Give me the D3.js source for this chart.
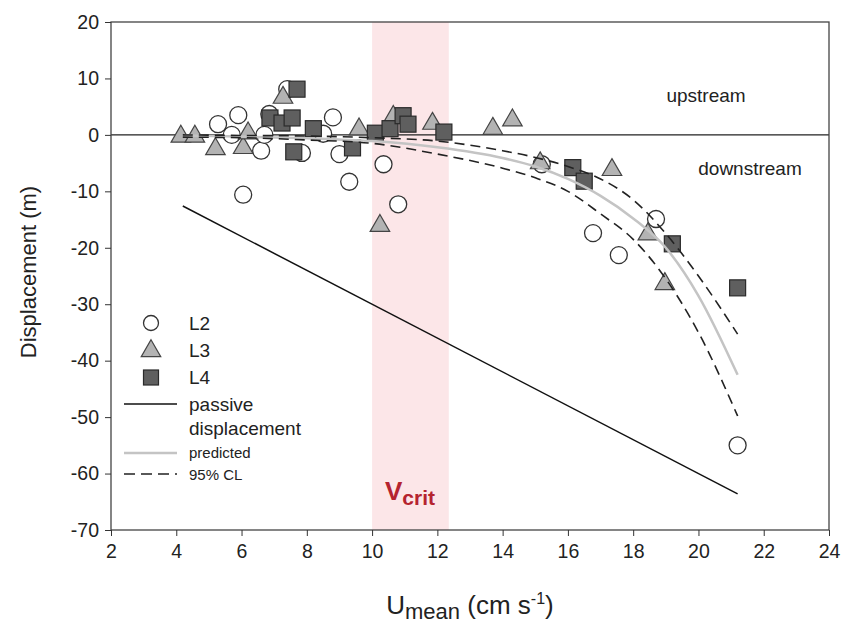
<!DOCTYPE html>
<html><head><meta charset="utf-8">
<script src="https://cdn.jsdelivr.net/npm/d3@7"></script>
<style>body{margin:0;background:#fff}svg{font-family:"Liberation Sans",Arial,sans-serif}</style>
</head><body><svg id="c" width="845" height="642"></svg>
<script>
const xTicks=[2,4,6,8,10,12,14,16,18,20,22,24];
const yTicks=[20,10,0,-10,-20,-30,-40,-50,-60,-70];
const vcrit=[10,12.35];
const L2x=[5.28,5.7,5.9,6.05,6.6,6.7,6.85,7.4,7.85,8.5,8.8,9.0,9.3,10.35,10.8,15.2,16.77,17.56,18.7,21.2];
const L2y=[1.9,0,3.5,-10.6,-2.8,0,3.7,8.1,-3.2,0.2,3.1,-3.4,-8.3,-5.2,-12.3,-5.2,-17.4,-21.3,-14.9,-55.0];
const L3x=[4.14,4.57,5.2,6.05,6.2,7.27,9.6,10.24,10.65,11.85,13.7,14.3,15.15,17.35,18.45,18.97];
const L3y=[-0.3,-0.3,-2.5,-2.3,0.3,6.6,1.0,-16.1,3.2,2.0,1.1,2.6,-5.0,-6.2,-17.6,-26.4];
const L4x=[6.87,7.24,7.55,7.7,7.6,8.2,9.4,10.1,10.55,10.95,11.1,12.2,16.15,16.5,19.2,21.2];
const L4y=[3.0,2.1,3.0,8.1,-3.0,1.1,-2.3,0.3,1.1,3.4,1.9,0.5,-5.8,-8.2,-19.3,-27.1];
const passiveX=[4.2,21.2];
const passiveY=[-12.6,-63.6];
const curveX=[4.2,6,8,10,12,14,15,16,17,18,19,20,21.2];
const predY=[-0.1,-0.3,-0.6,-1.1,-2.2,-4.1,-5.6,-7.8,-10.8,-14.8,-20,-28.5,-42.5];
const upperY=[0,-0.1,-0.2,-0.5,-1.1,-2.8,-4,-5.6,-7.8,-11.5,-17.5,-25,-35.3];
const lowerY=[-0.4,-0.5,-0.9,-1.5,-3.4,-5.9,-7.6,-10,-14,-18.5,-25.5,-35,-49.8];

const svg=d3.select("#c");
const L=111,R=829,T=22,B=530;
const x=d3.scaleLinear().domain([2,24]).range([L,R]);
const y=d3.scaleLinear().domain([-70,20]).range([B,T]);

svg.append("rect").attr("x",x(vcrit[0])).attr("y",T).attr("width",x(vcrit[1])-x(vcrit[0])).attr("height",B-T).attr("fill","#fce6e8");
svg.append("line").attr("x1",L).attr("x2",R).attr("y1",y(0)).attr("y2",y(0)).attr("stroke","#222").attr("stroke-width",1.2);

const g=svg.append("g");
g.selectAll("circle.l2").data(L2x).join("circle").attr("cx",d=>x(d)).attr("cy",(d,i)=>y(L2y[i])).attr("r",8.5).attr("fill","#fff").attr("stroke","#333").attr("stroke-width",1.3);
const tri=d3.symbol().type(d3.symbolTriangle).size(165);
g.selectAll("path.l3").data(L3x).join("path").attr("d",tri).attr("transform",(d,i)=>`translate(${x(d)},${y(L3y[i])})`).attr("fill","#b3b3b3").attr("stroke","#444").attr("stroke-width",1.2);
g.selectAll("rect.l4").data(L4x).join("rect").attr("x",d=>x(d)-8).attr("y",(d,i)=>y(L4y[i])-8).attr("width",16).attr("height",16).attr("fill","#5f5f5f").attr("stroke","#2a2a2a").attr("stroke-width",1.2);

const line=d3.line().x(d=>x(d[0])).y(d=>y(d[1])).curve(d3.curveMonotoneX);
svg.append("path").attr("d",line(curveX.map((v,i)=>[v,predY[i]]))).attr("fill","none").attr("stroke","#c4c4c4").attr("stroke-width",2.5);
[upperY,lowerY].forEach(a=>svg.append("path").attr("d",line(curveX.map((v,i)=>[v,a[i]]))).attr("fill","none").attr("stroke","#222").attr("stroke-width",1.6).attr("stroke-dasharray","10,6"));
svg.append("path").attr("d",d3.line().x(d=>x(d[0])).y(d=>y(d[1]))(passiveX.map((v,i)=>[v,passiveY[i]]))).attr("fill","none").attr("stroke","#111").attr("stroke-width",1.5);

// frame
svg.append("rect").attr("x",L).attr("y",T).attr("width",R-L).attr("height",B-T).attr("fill","none").attr("stroke","#444").attr("stroke-width",1.3);
const fmt=d=>String(d);
const xa=svg.append("g").attr("transform",`translate(0,${B})`).call(d3.axisBottom(x).tickValues(xTicks).tickFormat(fmt).tickSize(6).tickPadding(8).tickSizeOuter(0));
const ya=svg.append("g").attr("transform",`translate(${L},0)`).call(d3.axisLeft(y).tickValues(yTicks).tickFormat(fmt).tickSize(6).tickPadding(6).tickSizeOuter(0));
[xa,ya].forEach(a=>{a.select(".domain").remove();a.selectAll("line").attr("stroke","#333");a.selectAll("text").attr("font-size",19.5).attr("fill","#222").attr("font-family","Liberation Sans, Arial, sans-serif");});

svg.append("text").attr("transform","translate(36,272) rotate(-90)").attr("text-anchor","middle").attr("font-size",22).attr("fill","#222").text("Displacement (m)");
const xt=svg.append("text").attr("x",470).attr("y",614).attr("text-anchor","middle").attr("font-size",26).attr("fill","#222");
xt.append("tspan").text("U");
xt.append("tspan").attr("font-size",22).attr("dy",5).text("mean");
xt.append("tspan").attr("dy",-5).text(" (cm s");
xt.append("tspan").attr("font-size",16).attr("dy",-10).text("-1");
xt.append("tspan").attr("dy",10).text(")");

svg.append("text").attr("x",706).attr("y",102).attr("text-anchor","middle").attr("font-size",19).attr("fill","#222").text("upstream");
svg.append("text").attr("x",750).attr("y",175).attr("text-anchor","middle").attr("font-size",19).attr("fill","#222").text("downstream");
const vt=svg.append("text").attr("x",410).attr("y",500).attr("text-anchor","middle").attr("font-size",26).attr("font-weight","bold").attr("fill","#b5232f");
vt.append("tspan").text("V");
vt.append("tspan").attr("font-size",21).attr("dy",5).text("crit");

// legend
const lg=svg.append("g");
const lx=151,tx=189;
lg.append("circle").attr("cx",lx).attr("cy",323).attr("r",7.5).attr("fill","#fff").attr("stroke","#333").attr("stroke-width",1.3);
lg.append("path").attr("d",tri).attr("transform",`translate(${lx},351)`).attr("fill","#b3b3b3").attr("stroke","#444").attr("stroke-width",1.2);
lg.append("rect").attr("x",lx-7.5).attr("y",370).attr("width",15).attr("height",15).attr("fill","#5f5f5f").attr("stroke","#2a2a2a").attr("stroke-width",1.2);
lg.append("line").attr("x1",124).attr("x2",177).attr("y1",404).attr("y2",404).attr("stroke","#111").attr("stroke-width",1.5);
lg.append("line").attr("x1",124).attr("x2",177).attr("y1",453).attr("y2",453).attr("stroke","#c4c4c4").attr("stroke-width",2.5);
lg.append("line").attr("x1",124).attr("x2",177).attr("y1",474).attr("y2",474).attr("stroke","#222").attr("stroke-width",1.5).attr("stroke-dasharray","11,6");
[["L2",330,19],["L3",357,19],["L4",384,19],["passive",411,19],["displacement",435,19],["predicted",458,15],["95% CL",480,15]].forEach(d=>lg.append("text").attr("x",tx).attr("y",d[1]).attr("font-size",d[2]).attr("fill","#222").text(d[0]));
</script></body></html>
